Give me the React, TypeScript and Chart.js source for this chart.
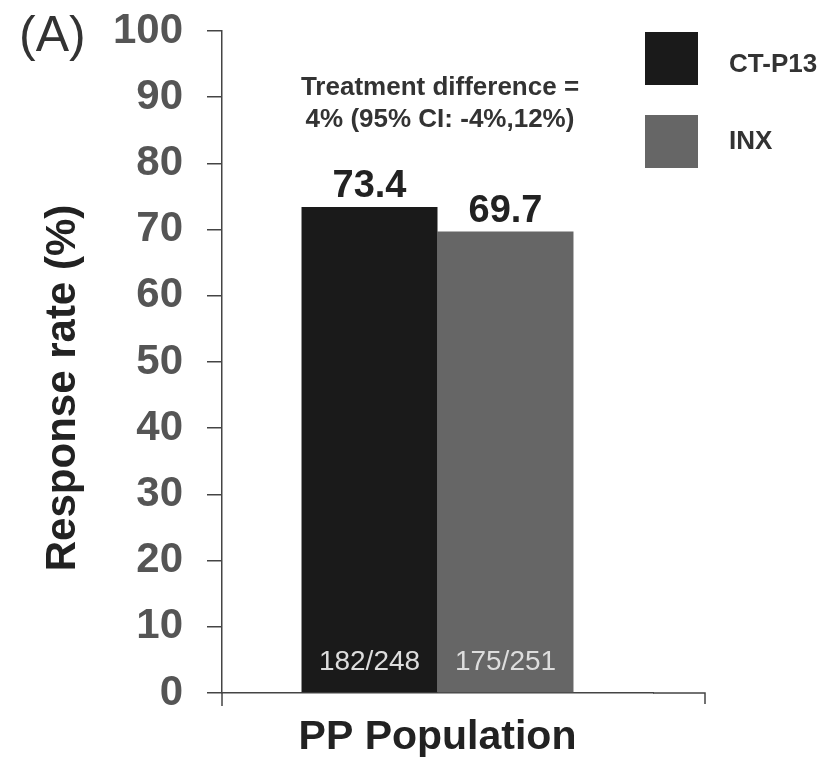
import React, { useEffect, useRef } from "react";
import { Chart, registerables } from "chart.js";

Chart.register(...registerables);

const categories = ["PP Population"];
const seriesNames = ["CT-P13", "INX"];
const seriesColors = ["#1a1a1a", "#666666"];
const ctp13Values = [73.4];
const inxValues = [69.7];
const responderLabels = ["182/248", "175/251"];
const annotationLines = ["Treatment difference =", "4% (95% CI: -4%,12%)"];
const panelLabel = "(A)";
const yTitle = "Response rate (%)";

const FONT = "'Liberation Sans', Arial, Helvetica, sans-serif";

const overlayPlugin = {
  id: "overlay",
  afterDraw(chart: any) {
    const ctx = chart.ctx;
    const area = chart.chartArea;
    const x0 = area.left;
    const y0 = area.bottom;
    ctx.save();
    // axis extensions
    ctx.strokeStyle = "#444";
    ctx.lineWidth = 1.5;
    ctx.beginPath();
    ctx.moveTo(x0, y0);
    ctx.lineTo(x0, y0 + 13);
    ctx.moveTo(area.right, y0);
    ctx.lineTo(705, y0);
    ctx.lineTo(705, y0 + 11);
    ctx.stroke();

    // panel label
    ctx.fillStyle = "#333";
    ctx.font = `50px ${FONT}`;
    ctx.textAlign = "left";
    ctx.textBaseline = "alphabetic";
    ctx.fillText(panelLabel, 19, 51);

    // y title
    ctx.save();
    ctx.translate(75, 388);
    ctx.rotate(-Math.PI / 2);
    ctx.fillStyle = "#222";
    ctx.font = `bold 42px ${FONT}`;
    ctx.textAlign = "center";
    ctx.fillText(yTitle, 0, 0);
    ctx.restore();

    // value labels and responder counts
    const values = [ctp13Values, inxValues];
    chart.data.datasets.forEach((ds: any, i: number) => {
      const meta = chart.getDatasetMeta(i);
      meta.data.forEach((bar: any, j: number) => {
        ctx.fillStyle = "#222";
        ctx.font = `bold 38px ${FONT}`;
        ctx.textAlign = "center";
        ctx.fillText(values[i][j].toFixed(1), bar.x, bar.y - 10);
        ctx.fillStyle = "#dddddd";
        ctx.font = `28px ${FONT}`;
        ctx.fillText(responderLabels[i], bar.x, 670);
      });
    });

    // annotation
    ctx.fillStyle = "#333";
    ctx.font = `bold 26px ${FONT}`;
    ctx.textAlign = "center";
    ctx.fillText(annotationLines[0], 440, 95);
    ctx.fillText(annotationLines[1], 440, 127);

    // legend
    const boxes = [32, 115];
    const textY = [72, 149];
    seriesNames.forEach((name, i) => {
      ctx.fillStyle = seriesColors[i];
      ctx.fillRect(645, boxes[i], 53, 53);
      ctx.fillStyle = "#333";
      ctx.font = `bold 26px ${FONT}`;
      ctx.textAlign = "left";
      ctx.fillText(name, 729, textY[i]);
    });
    ctx.restore();
  },
};

export default function App() {
  const ref = useRef<HTMLCanvasElement>(null);
  useEffect(() => {
    if (!ref.current) return;
    const chart = new Chart(ref.current, {
      type: "bar",
      data: {
        labels: categories,
        datasets: [
          { label: seriesNames[0], data: ctp13Values, backgroundColor: seriesColors[0] },
          { label: seriesNames[1], data: inxValues, backgroundColor: seriesColors[1] },
        ],
      },
      options: {
        responsive: false,
        animation: false,
        events: [],
        layout: { padding: { left: 0, top: 31, right: 172, bottom: 0 } },
        datasets: { bar: { categoryPercentage: 0.631, barPercentage: 1.0 } } as any,
        plugins: { legend: { display: false }, tooltip: { enabled: false } },
        scales: {
          x: {
            grid: { display: false, drawTicks: false },
            border: { display: true, color: "#444", width: 1.5 },
            ticks: {
              color: "#222",
              font: { family: FONT, size: 41, weight: "bold" },
              padding: 20,
            },
            afterFit(scale: any) {
              scale.height = 65;
              scale.paddingLeft = 0;
              scale.paddingRight = 0;
            },
          },
          y: {
            min: 0,
            max: 100,
            grid: { drawOnChartArea: false, drawTicks: true, tickLength: 15, color: "#444", lineWidth: 1.5 },
            border: { display: true, color: "#444", width: 1.5 },
            ticks: {
              stepSize: 10,
              color: "#555",
              font: { family: FONT, size: 42, weight: "bold" },
              padding: 24,
            },
            title: { display: false },
            afterFit(scale: any) {
              scale.width = 222;
              scale.paddingTop = 0;
              scale.paddingBottom = 0;
            },
          },
        },
      },
      plugins: [overlayPlugin],
    });
    return () => chart.destroy();
  }, []);
  return (
    <div style={{ position: "absolute", left: 0, top: 0, width: 825, height: 758, background: "#fff" }}>
      <canvas ref={ref} width={825} height={758} />
    </div>
  );
}
